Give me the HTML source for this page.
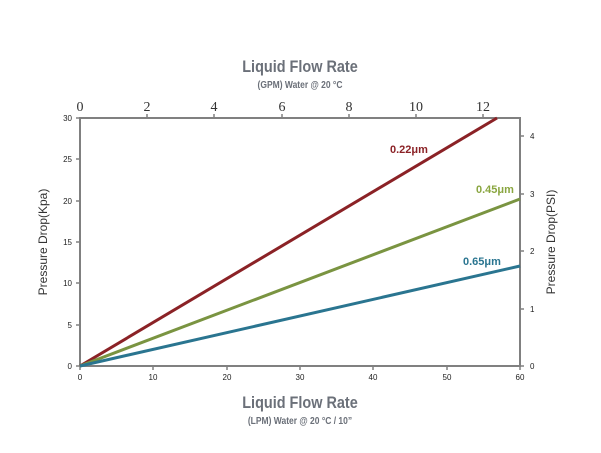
<!DOCTYPE html>
<html><head><style>
body{margin:0;background:#fff;}
svg text{font-family:"Liberation Sans",sans-serif;}
</style></head><body>
<svg width="601" height="448" xmlns="http://www.w3.org/2000/svg">
<text x="300" y="72" text-anchor="middle" font-size="17" font-weight="bold" fill="#6b7079" transform="translate(300,0) scale(0.85,1) translate(-300,0)">Liquid Flow Rate</text>
<text x="300" y="88" text-anchor="middle" font-size="10" font-weight="bold" fill="#6b7079" transform="translate(300,0) scale(0.85,1) translate(-300,0)">(GPM) Water @ 20 °C</text>
<g font-family="Liberation Serif" font-size="14" fill="#333" text-anchor="middle">
<text x="80" y="111" style="font-family:'Liberation Serif',serif">0</text>
<text x="147" y="111" style="font-family:'Liberation Serif',serif">2</text>
<text x="214" y="111" style="font-family:'Liberation Serif',serif">4</text>
<text x="282" y="111" style="font-family:'Liberation Serif',serif">6</text>
<text x="349" y="111" style="font-family:'Liberation Serif',serif">8</text>
<text x="416" y="111" style="font-family:'Liberation Serif',serif">10</text>
<text x="483" y="111" style="font-family:'Liberation Serif',serif">12</text>
</g>
<g stroke="#808080" stroke-width="2" fill="none">
<rect x="80" y="118" width="440" height="248"/>
</g>
<g stroke="#808080" stroke-width="1.5">
<line x1="76" y1="118" x2="80" y2="118"/><line x1="76" y1="159" x2="80" y2="159"/><line x1="76" y1="201" x2="80" y2="201"/><line x1="76" y1="242" x2="80" y2="242"/><line x1="76" y1="283" x2="80" y2="283"/><line x1="76" y1="325" x2="80" y2="325"/><line x1="76" y1="366" x2="80" y2="366"/>
<line x1="520" y1="136" x2="524" y2="136"/><line x1="520" y1="194" x2="524" y2="194"/><line x1="520" y1="251" x2="524" y2="251"/><line x1="520" y1="309" x2="524" y2="309"/><line x1="520" y1="366" x2="524" y2="366"/>
<line x1="80" y1="366" x2="80" y2="370"/><line x1="153" y1="366" x2="153" y2="370"/><line x1="227" y1="366" x2="227" y2="370"/><line x1="300" y1="366" x2="300" y2="370"/><line x1="373" y1="366" x2="373" y2="370"/><line x1="447" y1="366" x2="447" y2="370"/><line x1="520" y1="366" x2="520" y2="370"/>
<line x1="147" y1="114" x2="147" y2="118"/><line x1="214" y1="114" x2="214" y2="118"/><line x1="282" y1="114" x2="282" y2="118"/><line x1="349" y1="114" x2="349" y2="118"/><line x1="416" y1="114" x2="416" y2="118"/><line x1="483" y1="114" x2="483" y2="118"/>
</g>
<g font-size="8" fill="#222" text-anchor="end">
<text x="72" y="121">30</text><text x="72" y="162">25</text><text x="72" y="204">20</text><text x="72" y="245">15</text><text x="72" y="286">10</text><text x="72" y="328">5</text><text x="72" y="369">0</text>
</g>
<g font-size="8" fill="#222">
<text x="530" y="139">4</text><text x="530" y="197">3</text><text x="530" y="254">2</text><text x="530" y="312">1</text><text x="530" y="369">0</text>
</g>
<g font-size="8" fill="#222" text-anchor="middle">
<text x="80" y="380">0</text><text x="153" y="380">10</text><text x="227" y="380">20</text><text x="300" y="380">30</text><text x="373" y="380">40</text><text x="447" y="380">50</text><text x="520" y="380">60</text>
</g>
<text transform="translate(47,242) rotate(-90)" text-anchor="middle" font-size="12" fill="#333">Pressure Drop(Kpa)</text>
<text transform="translate(555,242) rotate(-90)" text-anchor="middle" font-size="12" fill="#333">Pressure Drop(PSI)</text>
<line x1="80" y1="366" x2="497" y2="118" stroke="#8b2226" stroke-width="3"/>
<line x1="80" y1="366" x2="520" y2="199" stroke="#7a9441" stroke-width="3"/>
<line x1="80" y1="366" x2="520" y2="266" stroke="#2a7590" stroke-width="3"/>
<text x="390" y="153" font-size="11" font-weight="bold" fill="#8b2226">0.22μm</text>
<text x="476" y="193" font-size="11" font-weight="bold" fill="#8aa640">0.45μm</text>
<text x="463" y="265" font-size="11" font-weight="bold" fill="#2a7590">0.65μm</text>
<text x="300" y="408" text-anchor="middle" font-size="17" font-weight="bold" fill="#6b7079" transform="translate(300,0) scale(0.85,1) translate(-300,0)">Liquid Flow Rate</text>
<text x="300" y="424" text-anchor="middle" font-size="10" font-weight="bold" fill="#6b7079" transform="translate(300,0) scale(0.85,1) translate(-300,0)">(LPM) Water @ 20 °C / 10”</text>
</svg>
</body></html>
